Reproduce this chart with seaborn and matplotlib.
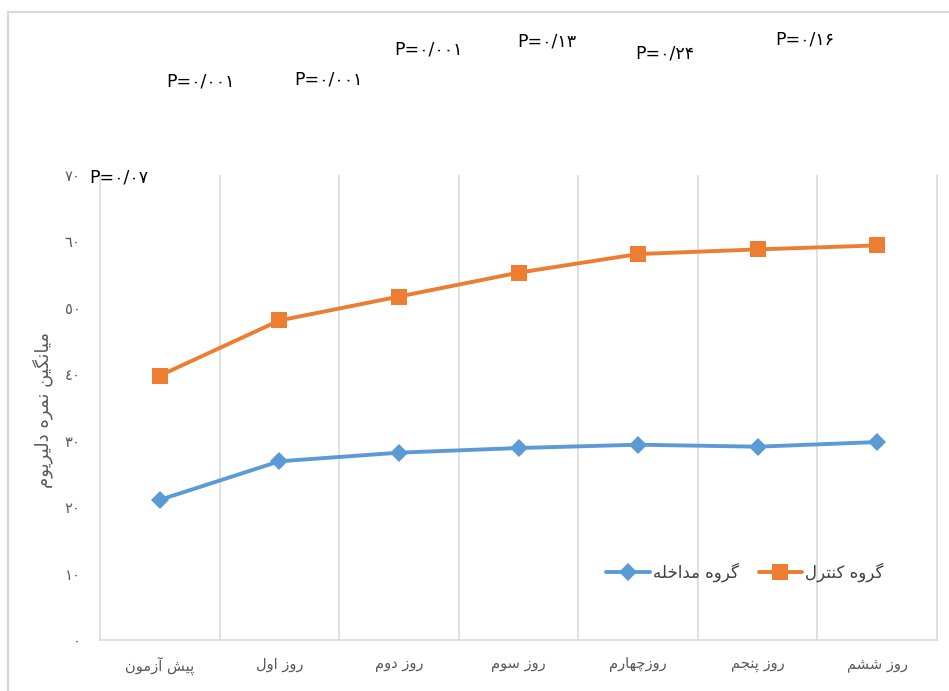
import matplotlib
matplotlib.use("Agg")
import matplotlib.pyplot as plt
from matplotlib.lines import Line2D
import seaborn as sns
import pandas as pd

# ---------------- data ----------------
days = ["پیش آزمون", "روز اول", "روز دوم", "روز سوم", "روزچهارم", "روز پنجم", "روز ششم"]
intervention = [21.1, 26.9, 28.2, 28.9, 29.4, 29.1, 29.8]
control = [39.8, 48.1, 51.7, 55.3, 58.1, 58.8, 59.4]
series_names = ["گروه مداخله", "گروه کنترل"]
y_ticks = [0, 10, 20, 30, 40, 50, 60, 70]
y_tick_labels = ["٠", "١٠", "٢٠", "٣٠", "٤٠", "٥٠", "٦٠", "٧٠"]
y_label = "میانگین نمره دلیریوم"
p_values = ["P=۰/۰۷", "P=۰/۰۰۱", "P=۰/۰۰۱", "P=۰/۰۰۱", "P=۰/۱۳", "P=۰/۲۴", "P=۰/۱۶"]

# ---------------- minimal Persian shaping (visual order) ----------------
FORMS = {
    'ا': ('\uFE8D', '\uFE8E', None, None),
    'آ': ('\uFE81', '\uFE82', None, None),
    'پ': ('\uFB56', '\uFB57', '\uFB58', '\uFB59'),
    'ت': ('\uFE95', '\uFE96', '\uFE97', '\uFE98'),
    'ج': ('\uFE9D', '\uFE9E', '\uFE9F', '\uFEA0'),
    'چ': ('\uFB7A', '\uFB7B', '\uFB7C', '\uFB7D'),
    'خ': ('\uFEA5', '\uFEA6', '\uFEA7', '\uFEA8'),
    'د': ('\uFEA9', '\uFEAA', None, None),
    'ر': ('\uFEAD', '\uFEAE', None, None),
    'ز': ('\uFEAF', '\uFEB0', None, None),
    'س': ('\uFEB1', '\uFEB2', '\uFEB3', '\uFEB4'),
    'ش': ('\uFEB5', '\uFEB6', '\uFEB7', '\uFEB8'),
    'ک': ('\uFB8E', '\uFB8F', '\uFB90', '\uFB91'),
    'گ': ('\uFB92', '\uFB93', '\uFB94', '\uFB95'),
    'ل': ('\uFEDD', '\uFEDE', '\uFEDF', '\uFEE0'),
    'م': ('\uFEE1', '\uFEE2', '\uFEE3', '\uFEE4'),
    'ن': ('\uFEE5', '\uFEE6', '\uFEE7', '\uFEE8'),
    'ه': ('\uFEE9', '\uFEEA', '\uFEEB', '\uFEEC'),
    'و': ('\uFEED', '\uFEEE', None, None),
    'ی': ('\uFBFC', '\uFBFD', '\uFBFE', '\uFBFF'),
}


def shape(text):
    out = []
    n = len(text)
    for i, ch in enumerate(text):
        if ch not in FORMS:
            out.append(ch)
            continue
        iso, fin, ini, med = FORMS[ch]
        prev = text[i - 1] if i > 0 else None
        nxt = text[i + 1] if i < n - 1 else None
        jp = prev in FORMS and FORMS[prev][2] is not None
        jn = ini is not None and nxt in FORMS
        if jp and jn:
            out.append(med)
        elif jp:
            out.append(fin)
        elif jn:
            out.append(ini)
        else:
            out.append(iso)
    return "".join(reversed(out))


# ---------------- style ----------------
sns.set_theme(style="white")
plt.rcParams["font.family"] = ["DejaVu Sans"]

W, H = 949, 691
fig = plt.figure(figsize=(W / 100, H / 100), dpi=100)
ax = fig.add_axes([100 / W, 1 - 640 / H, 837 / W, 465 / H])


def fp(x, y):
    return x / W, 1 - y / H


df = pd.DataFrame({
    "day": days * 2,
    "score": intervention + control,
    "group": [series_names[0]] * len(days) + [series_names[1]] * len(days),
})

blue = "#5B9BD5"
orange = "#ED7D31"
sns.lineplot(data=df[df.group == series_names[0]], x="day", y="score", sort=False,
             color=blue, lw=2.8, marker="D", markersize=9.5, markeredgewidth=0,
             ax=ax, legend=False, zorder=3)
sns.lineplot(data=df[df.group == series_names[1]], x="day", y="score", sort=False,
             color=orange, lw=2.8, marker="s", markersize=11, markeredgewidth=0,
             ax=ax, legend=False, zorder=3)

grid_c = "#D9D9D9"
ax.set_xlim(-0.5, len(days) - 0.5)
ax.set_ylim(0, 70)
ax.set_xticks(range(len(days)))
ax.set_xticklabels([shape(d) for d in days], fontsize=10.5, color="#595959")
ax.set_xticks([i + 0.5 for i in range(len(days) - 1)], minor=True)
ax.set_yticks(y_ticks)
ax.set_yticklabels(y_tick_labels, fontsize=10.5, color="#595959")
ax.tick_params(axis="both", which="both", length=0)
ax.tick_params(axis="y", pad=14)
ax.tick_params(axis="x", pad=12)
ax.grid(False)
ax.xaxis.grid(True, which="minor", color=grid_c, lw=1.1)
ax.set_xlabel("")
ax.set_ylabel("")
for s in ["left", "right", "bottom"]:
    ax.spines[s].set_color(grid_c)
    ax.spines[s].set_linewidth(1.1)
ax.spines["top"].set_visible(False)

fig.text(*fp(43, 410), shape(y_label), rotation=90, ha="center", va="center",
         fontsize=13, color="#595959")

# p-value annotations
p_pos = [(119, 178), (200, 82), (329, 80), (429, 50), (547, 41), (665, 54), (805, 39)]
for txt, (x, y) in zip(p_values, p_pos):
    fig.text(*fp(x, y), txt, ha="center", va="center", fontsize=12.5, color="black")

# legend
handles = [
    Line2D([], [], color=blue, lw=2.8, marker="D", markersize=9.5, markeredgewidth=0),
    Line2D([], [], color=orange, lw=2.8, marker="s", markersize=11, markeredgewidth=0),
]
ax.legend(handles, [shape(s) for s in series_names], loc="center",
          bbox_to_anchor=fp(745, 572), bbox_transform=fig.transFigure,
          ncol=2, frameon=False, fontsize=12, handlelength=2.6,
          handletextpad=0.2, columnspacing=1.2, labelcolor="#404040")

# chart-area border (top and left visible)
fig.add_artist(Line2D([8 / W, 8 / W], [0, 1 - 12 / H], transform=fig.transFigure,
                      color=grid_c, lw=1.6))
fig.add_artist(Line2D([8 / W, 1], [1 - 12 / H, 1 - 12 / H], transform=fig.transFigure,
                      color=grid_c, lw=1.6))

fig.savefig("out.png", dpi=100)
